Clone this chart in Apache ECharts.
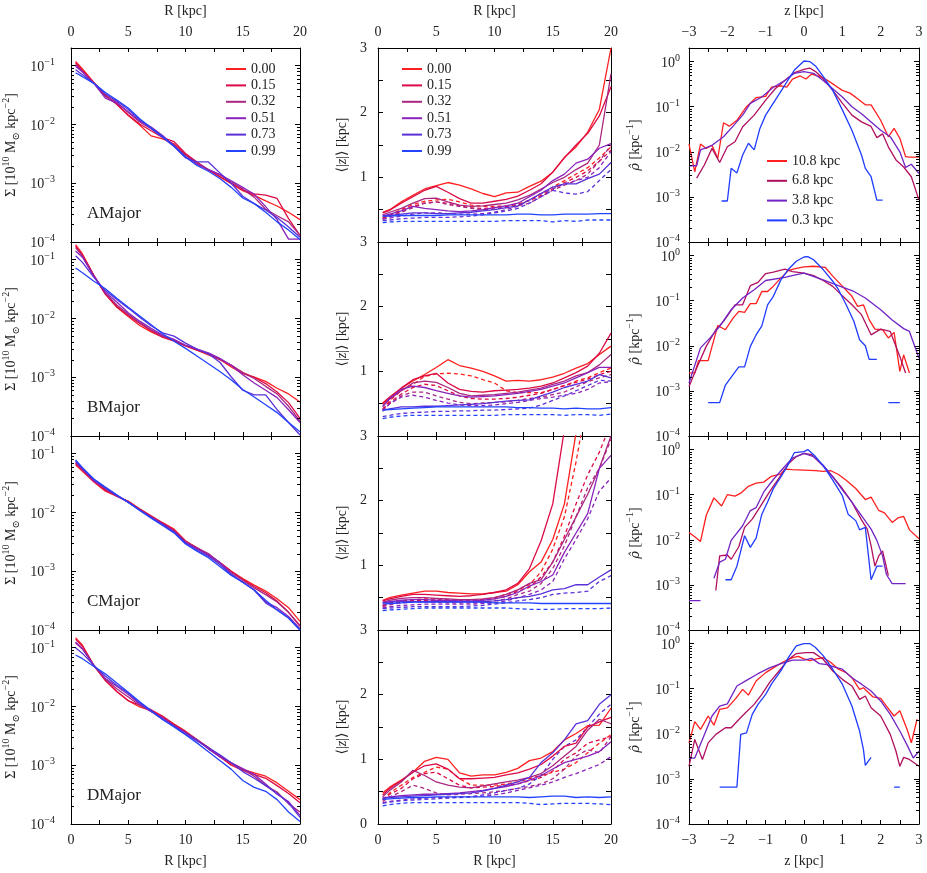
<!DOCTYPE html>
<html><head><meta charset="utf-8">
<script src="https://cdn.jsdelivr.net/npm/echarts@6/dist/echarts.min.js"></script>
<style>html,body{margin:0;padding:0;background:#fff}#c{width:927px;height:873px}</style>
</head><body><div id="c"></div>
<script>
// ---------------- DATA ----------------
const R = [0.4, 1, 2, 3, 4, 5, 6, 7, 8, 9, 10, 11, 12, 13, 14, 15, 16, 17, 18, 19, 20];
const fracLabels = ['0.00', '0.15', '0.32', '0.51', '0.73', '0.99'];
const radLabels = ['10.8 kpc', '6.8 kpc', '3.8 kpc', '0.3 kpc'];
const panelNames = ['AMajor', 'BMajor', 'CMajor', 'DMajor'];
const xTicksR = [0, 5, 10, 15, 20];
const xTicksZ = [-3, -2, -1, 0, 1, 2, 3];

// Surface density Sigma, one row per fraction (0.00 ... 0.99)
const sigmaA = [
  [0.118,0.088,0.052,0.032,0.022,0.0142,0.0098,0.0064,0.0057,0.0047,0.0031,0.0022,0.00168,0.00128,0.00098,0.00075,0.00062,0.0005,0.00041,0.00032,0.00024],
  [0.112,0.082,0.051,0.031,0.022,0.0145,0.0102,0.0078,0.006,0.0051,0.0032,0.0023,0.0017,0.0013,0.001,0.00076,0.00066,0.00063,0.00055,0.00025,0.00013],
  [0.105,0.08,0.05,0.03,0.024,0.016,0.011,0.0085,0.0062,0.0045,0.003,0.0022,0.0017,0.0014,0.00105,0.0008,0.00058,0.00036,0.00028,0.00022,0.00013],
  [0.098,0.078,0.05,0.028,0.023,0.0165,0.0115,0.009,0.0065,0.0043,0.0028,0.0021,0.0017,0.0014,0.0011,0.00085,0.00065,0.0004,0.00024,0.000112,0.000112],
  [0.085,0.07,0.05,0.033,0.025,0.018,0.012,0.0085,0.006,0.0042,0.0027,0.0023,0.0023,0.0015,0.001,0.0006,0.00045,0.00035,0.00026,0.00018,0.00012],
  [0.076,0.065,0.05,0.035,0.026,0.019,0.0125,0.0088,0.0062,0.0043,0.0028,0.002,0.0016,0.0012,0.00085,0.00056,0.00045,0.00032,0.00022,0.00016,0.00011]
];
const sigmaB = [
  [0.18,0.125,0.054,0.026,0.0155,0.0108,0.0076,0.0059,0.0048,0.0041,0.0034,0.0029,0.0024,0.002,0.0015,0.00115,0.001,0.00085,0.00065,0.00052,0.00038],
  [0.17,0.12,0.053,0.026,0.016,0.0112,0.0082,0.0062,0.0048,0.0042,0.0034,0.0029,0.0025,0.002,0.0016,0.0012,0.001,0.00078,0.00056,0.00037,0.0002],
  [0.16,0.115,0.053,0.027,0.017,0.0118,0.0085,0.0064,0.005,0.0043,0.0035,0.003,0.0025,0.002,0.0016,0.0012,0.00095,0.0007,0.00052,0.00032,0.00018],
  [0.14,0.11,0.052,0.028,0.019,0.0125,0.009,0.0068,0.0052,0.0044,0.0035,0.003,0.0026,0.0021,0.0016,0.0011,0.0008,0.0006,0.00045,0.00028,0.00017],
  [0.117,0.09,0.05,0.03,0.021,0.015,0.0105,0.0075,0.0057,0.005,0.0038,0.003,0.0025,0.0018,0.00101,0.0006,0.0005,0.0005,0.00028,0.00017,0.000104],
  [0.072,0.06,0.043,0.032,0.022,0.0155,0.011,0.0078,0.0055,0.0041,0.0031,0.0023,0.0017,0.00125,0.0009,0.00062,0.00046,0.00034,0.00025,0.00017,0.000118]
];
const sigmaC = [
  [0.065,0.05,0.033,0.023,0.019,0.0155,0.0115,0.0088,0.0067,0.0052,0.0033,0.0025,0.0019,0.0014,0.001,0.00075,0.00058,0.00046,0.00034,0.00024,0.00014],
  [0.068,0.052,0.034,0.024,0.019,0.0155,0.0113,0.0086,0.0066,0.005,0.0032,0.0025,0.0019,0.0014,0.001,0.00072,0.00055,0.00043,0.00031,0.0002,0.00012],
  [0.07,0.053,0.034,0.025,0.019,0.015,0.0112,0.0085,0.0065,0.0049,0.0032,0.0025,0.002,0.0014,0.00095,0.0007,0.00052,0.0004,0.0003,0.0002,0.000115],
  [0.074,0.055,0.035,0.026,0.0195,0.015,0.011,0.0083,0.0062,0.0047,0.0031,0.0024,0.0019,0.0014,0.0009,0.00065,0.00048,0.0003,0.00024,0.00017,0.000105],
  [0.076,0.057,0.036,0.026,0.0195,0.015,0.011,0.0082,0.0062,0.0046,0.003,0.0023,0.0018,0.0013,0.00088,0.00065,0.00048,0.00029,0.00022,0.00016,0.0001],
  [0.078,0.058,0.037,0.027,0.02,0.0148,0.0108,0.008,0.006,0.0045,0.0029,0.0022,0.0017,0.0012,0.00085,0.00065,0.00048,0.00032,0.00022,0.00016,0.0001]
];
const sigmaD = [
  [0.148,0.11,0.049,0.0275,0.018,0.0126,0.0098,0.0085,0.0068,0.005,0.0038,0.00275,0.002,0.0014,0.00105,0.00085,0.00074,0.00065,0.0005,0.00036,0.00026],
  [0.14,0.105,0.05,0.028,0.018,0.0125,0.0105,0.0088,0.0068,0.0049,0.0037,0.0027,0.002,0.0014,0.001,0.00082,0.0007,0.0006,0.00045,0.00033,0.00023],
  [0.12,0.095,0.05,0.029,0.02,0.0145,0.0105,0.0082,0.0065,0.0048,0.0036,0.0027,0.0019,0.0014,0.0011,0.00085,0.00065,0.00045,0.00035,0.00022,0.00016],
  [0.125,0.095,0.05,0.03,0.022,0.016,0.011,0.0082,0.0063,0.0047,0.0036,0.0027,0.0019,0.0014,0.0011,0.00088,0.0007,0.00048,0.00032,0.00024,0.00014],
  [0.1,0.08,0.05,0.033,0.023,0.017,0.0115,0.0082,0.006,0.0046,0.0034,0.0026,0.002,0.0015,0.0011,0.00078,0.0006,0.00045,0.00033,0.00023,0.00013],
  [0.075,0.065,0.048,0.036,0.025,0.0175,0.012,0.0085,0.006,0.0045,0.0033,0.0024,0.0017,0.0012,0.00085,0.00055,0.00042,0.00036,0.00026,0.00016,0.00011]
];

// Mean height <|z|>, solid and dashed, one row per fraction
const zmeanA_solid = [
  [0.46,0.5,0.62,0.72,0.82,0.87,0.92,0.88,0.82,0.75,0.7,0.76,0.77,0.86,0.94,1.08,1.31,1.47,1.7,2.05,3.0],
  [0.45,0.49,0.6,0.7,0.8,0.86,0.77,0.67,0.6,0.6,0.63,0.66,0.71,0.8,0.9,1.08,1.3,1.5,1.68,1.95,2.4],
  [0.42,0.46,0.52,0.6,0.67,0.68,0.62,0.57,0.55,0.56,0.58,0.6,0.65,0.72,0.82,0.92,1.0,1.12,1.22,1.5,2.6],
  [0.4,0.43,0.48,0.55,0.52,0.5,0.48,0.47,0.48,0.5,0.53,0.56,0.6,0.7,0.8,0.95,1.05,1.22,1.28,1.45,1.52],
  [0.4,0.41,0.43,0.45,0.45,0.44,0.44,0.45,0.46,0.48,0.5,0.53,0.56,0.65,0.75,0.85,0.9,0.9,0.98,1.05,1.23],
  [0.4,0.4,0.41,0.41,0.41,0.41,0.42,0.42,0.42,0.42,0.42,0.42,0.43,0.43,0.42,0.42,0.43,0.43,0.43,0.44,0.44]
];
const zmeanA_dash = [
  [0.37,0.42,0.5,0.58,0.63,0.65,0.66,0.62,0.57,0.55,0.55,0.56,0.58,0.65,0.75,0.85,0.95,1.05,1.15,1.3,1.47],
  [0.36,0.4,0.48,0.55,0.6,0.62,0.6,0.56,0.53,0.52,0.53,0.55,0.58,0.64,0.72,0.82,0.92,1.0,1.1,1.25,1.42],
  [0.36,0.39,0.46,0.53,0.6,0.62,0.58,0.55,0.52,0.5,0.51,0.53,0.56,0.6,0.7,0.8,0.88,0.95,1.05,1.25,1.5],
  [0.35,0.37,0.4,0.43,0.45,0.45,0.44,0.43,0.43,0.44,0.46,0.5,0.55,0.65,0.75,0.82,0.9,0.95,1.0,1.15,1.4],
  [0.33,0.34,0.36,0.37,0.38,0.38,0.38,0.39,0.4,0.42,0.45,0.48,0.52,0.6,0.7,0.8,0.76,0.74,0.78,0.95,1.12],
  [0.3,0.31,0.32,0.32,0.32,0.32,0.32,0.32,0.32,0.32,0.32,0.33,0.33,0.33,0.33,0.31,0.33,0.32,0.34,0.34,0.34]
];
const zmeanB_solid = [
  [0.51,0.6,0.74,0.85,0.95,1.06,1.18,1.09,1.05,1.0,0.93,0.85,0.86,0.85,0.87,0.91,0.97,1.05,1.12,1.26,1.39],
  [0.5,0.6,0.74,0.87,0.93,0.97,0.82,0.72,0.69,0.68,0.7,0.71,0.72,0.74,0.77,0.82,0.9,0.98,1.08,1.28,1.59],
  [0.47,0.57,0.7,0.82,0.85,0.83,0.75,0.66,0.62,0.63,0.64,0.66,0.68,0.71,0.74,0.8,0.85,0.93,0.98,1.1,1.26],
  [0.45,0.58,0.72,0.77,0.75,0.7,0.66,0.62,0.6,0.61,0.62,0.64,0.66,0.69,0.72,0.77,0.82,0.9,0.98,1.06,1.06],
  [0.4,0.42,0.45,0.45,0.46,0.46,0.47,0.48,0.49,0.5,0.52,0.54,0.55,0.56,0.62,0.68,0.75,0.8,0.85,0.95,0.9],
  [0.4,0.41,0.42,0.43,0.44,0.45,0.45,0.45,0.45,0.45,0.45,0.45,0.44,0.44,0.43,0.43,0.42,0.43,0.42,0.42,0.44]
];
const zmeanB_dash = [
  [0.4,0.55,0.7,0.8,0.92,0.96,0.97,0.96,0.93,0.87,0.82,0.7,0.67,0.67,0.67,0.72,0.78,0.85,0.9,0.98,1.05],
  [0.42,0.52,0.65,0.75,0.8,0.78,0.7,0.62,0.58,0.57,0.57,0.58,0.6,0.63,0.66,0.72,0.78,0.83,0.88,0.95,1.0],
  [0.4,0.5,0.62,0.68,0.68,0.62,0.57,0.52,0.5,0.51,0.52,0.53,0.55,0.58,0.6,0.64,0.68,0.76,0.84,0.9,0.95],
  [0.38,0.5,0.6,0.63,0.6,0.55,0.51,0.48,0.47,0.47,0.48,0.5,0.52,0.55,0.58,0.6,0.63,0.66,0.72,0.82,0.84],
  [0.3,0.32,0.35,0.36,0.37,0.38,0.38,0.39,0.39,0.4,0.4,0.41,0.42,0.43,0.48,0.55,0.62,0.7,0.78,0.86,0.85],
  [0.27,0.29,0.31,0.32,0.32,0.32,0.32,0.32,0.32,0.32,0.32,0.33,0.33,0.33,0.33,0.33,0.32,0.33,0.33,0.32,0.34]
];
const zmeanC_solid = [
  [0.46,0.5,0.54,0.57,0.6,0.6,0.58,0.57,0.56,0.56,0.58,0.6,0.7,0.9,1.05,1.4,1.95,3.05,4.0,4.8,5.5],
  [0.45,0.48,0.52,0.55,0.55,0.54,0.53,0.52,0.53,0.55,0.58,0.62,0.72,0.95,1.38,1.95,3.1,4.0,4.8,5.5,6.0],
  [0.43,0.46,0.49,0.5,0.5,0.49,0.48,0.47,0.47,0.48,0.5,0.55,0.62,0.72,0.78,1.05,1.4,1.75,2.1,2.5,3.0],
  [0.42,0.44,0.46,0.47,0.47,0.46,0.46,0.45,0.45,0.46,0.48,0.52,0.58,0.68,0.75,0.85,1.2,1.5,1.8,2.5,2.7],
  [0.42,0.43,0.44,0.44,0.44,0.44,0.44,0.44,0.44,0.44,0.45,0.47,0.5,0.52,0.56,0.62,0.64,0.7,0.7,0.82,0.93],
  [0.4,0.41,0.42,0.43,0.43,0.43,0.43,0.43,0.43,0.43,0.42,0.42,0.42,0.42,0.41,0.41,0.41,0.41,0.41,0.41,0.41]
];
const zmeanC_dash = [
  [0.38,0.42,0.45,0.47,0.48,0.48,0.47,0.46,0.46,0.47,0.5,0.55,0.62,0.7,0.9,1.25,1.75,2.6,3.6,4.5,5.0],
  [0.37,0.41,0.44,0.46,0.46,0.46,0.45,0.45,0.45,0.46,0.48,0.52,0.6,0.66,0.82,1.05,1.45,1.95,2.4,2.75,3.2],
  [0.36,0.39,0.42,0.43,0.43,0.43,0.42,0.42,0.42,0.43,0.45,0.48,0.55,0.6,0.72,0.95,1.3,1.75,2.2,2.5,2.95],
  [0.34,0.36,0.38,0.39,0.4,0.4,0.4,0.4,0.4,0.41,0.42,0.45,0.5,0.55,0.62,0.75,1.1,1.4,1.72,2.15,2.35],
  [0.33,0.34,0.35,0.36,0.36,0.36,0.36,0.36,0.37,0.38,0.4,0.42,0.45,0.47,0.5,0.55,0.57,0.58,0.6,0.75,0.84],
  [0.3,0.31,0.32,0.33,0.34,0.34,0.34,0.34,0.34,0.34,0.34,0.34,0.33,0.32,0.32,0.32,0.33,0.33,0.33,0.33,0.34]
];
const zmeanD_solid = [
  [0.48,0.57,0.68,0.8,0.97,1.03,1.0,0.79,0.74,0.76,0.76,0.8,0.86,0.98,1.02,1.12,1.3,1.4,1.52,1.53,1.79],
  [0.45,0.55,0.67,0.8,0.9,0.93,0.85,0.7,0.7,0.71,0.72,0.76,0.79,0.85,0.92,1.05,1.2,1.25,1.5,1.58,1.65],
  [0.42,0.52,0.65,0.83,0.75,0.65,0.6,0.57,0.56,0.59,0.62,0.65,0.68,0.72,0.78,0.9,1.05,1.2,1.45,1.62,1.55],
  [0.4,0.42,0.44,0.45,0.46,0.46,0.47,0.48,0.5,0.52,0.55,0.58,0.62,0.68,0.75,0.85,0.95,1.0,1.05,1.12,1.27],
  [0.4,0.41,0.42,0.43,0.44,0.45,0.46,0.47,0.48,0.51,0.55,0.6,0.65,0.72,0.95,1.1,1.3,1.55,1.6,1.85,2.0],
  [0.38,0.39,0.4,0.41,0.41,0.42,0.42,0.42,0.42,0.42,0.42,0.42,0.42,0.41,0.42,0.43,0.43,0.41,0.42,0.41,0.42]
];
const zmeanD_dash = [
  [0.38,0.48,0.6,0.72,0.8,0.88,0.85,0.7,0.6,0.6,0.6,0.62,0.65,0.7,0.75,0.8,0.85,0.95,1.1,1.25,1.38],
  [0.37,0.46,0.55,0.7,0.78,0.8,0.7,0.6,0.56,0.57,0.58,0.6,0.62,0.67,0.72,0.82,1.0,1.1,1.25,1.3,1.35],
  [0.35,0.42,0.5,0.6,0.55,0.48,0.45,0.46,0.47,0.48,0.5,0.52,0.55,0.58,0.62,0.7,0.85,1.05,1.15,1.1,1.35],
  [0.33,0.35,0.37,0.39,0.4,0.41,0.41,0.42,0.42,0.43,0.45,0.48,0.52,0.56,0.6,0.65,0.72,0.78,0.85,0.92,1.04],
  [0.32,0.34,0.36,0.37,0.38,0.39,0.4,0.41,0.42,0.45,0.48,0.52,0.55,0.62,0.75,1.0,1.2,1.3,1.5,1.7,1.85],
  [0.28,0.3,0.32,0.33,0.33,0.33,0.33,0.33,0.33,0.33,0.33,0.33,0.33,0.32,0.3,0.31,0.32,0.32,0.32,0.31,0.3]
];

// Vertical density profiles [z, rho], one list per radius (10.8, 6.8, 3.8, 0.3 kpc)
const rhoA = [
  [[-3,0.0148],[-2.85,0.0036],[-2.7,0.0148],[-2.55,0.0118],[-2.4,0.014],[-2.25,0.0071],[-2.1,0.044],[-1.95,0.037],[-1.75,0.05],[-1.5,0.1],[-1.25,0.158],[-1.0,0.17],[-0.85,0.27],[-0.6,0.29],[-0.45,0.27],[-0.3,0.41],[-0.1,0.48],[0.05,0.41],[0.2,0.53],[0.4,0.47],[0.6,0.39],[0.8,0.3],[1.0,0.23],[1.2,0.2],[1.4,0.15],[1.6,0.11],[1.75,0.11],[2.0,0.05],[2.2,0.0215],[2.35,0.033],[2.5,0.02],[2.65,0.0078],[2.75,0.0076],[3,0.0076]],
  [[-2.8,0.0026],[-2.6,0.0051],[-2.4,0.0119],[-2.2,0.0058],[-2.0,0.0129],[-1.8,0.0167],[-1.6,0.036],[-1.3,0.065],[-1.0,0.14],[-0.75,0.25],[-0.5,0.38],[-0.25,0.57],[0,0.67],[0.15,0.72],[0.3,0.6],[0.5,0.42],[0.75,0.23],[1.0,0.12],[1.25,0.065],[1.5,0.046],[1.75,0.0365],[1.9,0.0206],[2.05,0.025],[2.2,0.0129],[2.4,0.0066],[2.6,0.0046],[2.8,0.0028],[3,0.00085]],
  [[-3,0.0049],[-2.8,0.0049],[-2.7,0.011],[-2.4,0.0139],[-2.1,0.0216],[-1.85,0.037],[-1.6,0.065],[-1.4,0.118],[-1.1,0.164],[-0.8,0.27],[-0.5,0.38],[-0.25,0.55],[0,0.6],[0.25,0.55],[0.5,0.38],[0.75,0.25],[1.0,0.164],[1.25,0.1],[1.5,0.07],[1.75,0.046],[2.0,0.03],[2.25,0.0216],[2.5,0.01],[2.65,0.0045],[2.8,0.0053],[3,0.0033]],
  [[-2.15,0.00081],[-2.0,0.00081],[-1.9,0.0043],[-1.75,0.0034],[-1.6,0.0085],[-1.45,0.0155],[-1.3,0.011],[-1.15,0.033],[-1.0,0.065],[-0.75,0.14],[-0.5,0.3],[-0.25,0.65],[0,1.03],[0.15,1.0],[0.3,0.8],[0.5,0.47],[0.75,0.23],[1.0,0.085],[1.25,0.03],[1.5,0.0085],[1.6,0.0043],[1.75,0.0028],[1.9,0.00085],[2.05,0.00085]]
];
const rhoB = [
  [[-3,0.0025],[-2.85,0.0025],[-2.75,0.0047],[-2.5,0.0047],[-2.25,0.028],[-2.05,0.0227],[-1.85,0.041],[-1.7,0.058],[-1.55,0.055],[-1.4,0.086],[-1.25,0.086],[-1.1,0.16],[-0.95,0.16],[-0.8,0.21],[-0.6,0.32],[-0.4,0.47],[-0.2,0.52],[0,0.56],[0.25,0.58],[0.55,0.55],[0.75,0.35],[1.0,0.21],[1.25,0.125],[1.4,0.075],[1.55,0.081],[1.7,0.038],[1.85,0.0234],[2.05,0.0227],[2.2,0.0149],[2.35,0.0198],[2.5,0.0027],[2.6,0.0063],[2.75,0.0025]],
  [[-3,0.00125],[-2.8,0.0032],[-2.55,0.0097],[-2.3,0.0227],[-2.1,0.0348],[-1.8,0.081],[-1.6,0.081],[-1.4,0.215],[-1.2,0.255],[-1.0,0.4],[-0.8,0.43],[-0.5,0.5],[-0.3,0.44],[0,0.41],[0.25,0.36],[0.5,0.28],[0.75,0.208],[1.0,0.128],[1.25,0.081],[1.5,0.049],[1.75,0.0175],[2.0,0.0234],[2.25,0.0208],[2.5,0.0058],[2.65,0.0025]],
  [[-3,0.0015],[-2.7,0.009],[-2.45,0.015],[-2.2,0.027],[-1.9,0.063],[-1.6,0.115],[-1.3,0.175],[-1.0,0.28],[-0.5,0.33],[-0.25,0.37],[0,0.41],[0.5,0.29],[1.0,0.2],[1.3,0.16],[1.6,0.115],[2.0,0.063],[2.3,0.0375],[2.6,0.024],[2.75,0.0208],[3,0.0053]],
  [[-2.5,0.00055],[-2.2,0.00055],[-2.05,0.00135],[-1.85,0.0023],[-1.7,0.0034],[-1.55,0.0034],[-1.4,0.0097],[-1.25,0.0174],[-1.1,0.0277],[-0.95,0.081],[-0.8,0.125],[-0.6,0.293],[-0.4,0.506],[-0.2,0.75],[0,0.93],[0.1,0.95],[0.25,0.81],[0.5,0.49],[0.75,0.27],[0.9,0.175],[1.1,0.081],[1.3,0.035],[1.45,0.0136],[1.6,0.01],[1.7,0.005],[1.9,0.005],[2.05,'-'],[2.2,0.00055],[2.5,0.00055]]
];
const rhoC = [
  [[-3,0.0145],[-2.85,0.0117],[-2.7,0.0092],[-2.55,0.035],[-2.35,0.085],[-2.15,0.056],[-2.0,0.1],[-1.8,0.093],[-1.65,0.108],[-1.45,0.153],[-1.25,0.18],[-1.05,0.19],[-0.85,0.255],[-0.6,0.29],[-0.5,0.37],[-0.3,0.36],[0,0.35],[0.3,0.34],[0.5,0.33],[0.7,0.34],[0.9,0.28],[1.1,0.21],[1.35,0.137],[1.6,0.078],[1.75,0.0886],[1.95,0.0447],[2.1,0.0395],[2.3,0.0243],[2.45,0.0305],[2.6,0.033],[2.75,0.0166],[3,0.0106]],
  [[-2.3,0.00075],[-2.2,0.0044],[-2.0,0.0046],[-1.9,0.0037],[-1.7,0.007],[-1.55,0.0188],[-1.35,0.0288],[-1.15,0.0528],[-0.9,0.115],[-0.6,0.27],[-0.4,0.49],[-0.2,0.7],[0,0.82],[0.2,0.77],[0.5,0.43],[0.75,0.25],[1.0,0.137],[1.25,0.068],[1.5,0.0276],[1.65,0.0172],[1.75,0.0073],[1.85,0.0026],[1.95,0.0044],[2.05,0.0057],[2.2,0.0016]],
  [[-3,0.00045],[-2.7,0.00045],[-2.55,'-'],[-2.35,0.0014],[-2.2,0.0032],[-2.05,0.0037],[-1.9,0.0097],[-1.6,0.0205],[-1.4,0.0445],[-1.25,0.0515],[-1.05,0.115],[-0.8,0.217],[-0.55,0.38],[-0.3,0.65],[0,0.82],[0.25,0.7],[0.5,0.45],[0.75,0.25],[1.0,0.128],[1.25,0.0686],[1.5,0.0345],[1.75,0.0172],[1.9,0.0097],[2.05,0.0044],[2.15,0.0017],[2.3,0.00107],[2.5,0.00107],[2.65,0.00107]],
  [[-2.05,0.0013],[-1.9,0.0013],[-1.75,0.0026],[-1.55,0.0123],[-1.4,0.0068],[-1.25,0.0109],[-1.1,0.037],[-0.95,0.069],[-0.8,0.136],[-0.6,0.25],[-0.45,0.41],[-0.25,0.86],[0,0.9],[0.1,1.0],[0.3,0.7],[0.5,0.44],[0.75,0.21],[1.0,0.095],[1.15,0.037],[1.35,0.0266],[1.45,0.0166],[1.6,0.0188],[1.75,0.0013],[1.9,0.0026],[2.05,0.0026]]
];
const rhoD = [
  [[-3,0.0063],[-2.85,0.0186],[-2.7,0.0125],[-2.5,0.0248],[-2.35,0.0155],[-2.2,0.0347],[-2.0,0.0376],[-1.8,0.058],[-1.6,0.0966],[-1.45,0.072],[-1.25,0.148],[-1.0,0.227],[-0.8,0.29],[-0.55,0.39],[-0.3,0.49],[-0.15,0.52],[0,0.46],[0.15,0.42],[0.3,0.45],[0.5,0.49],[0.7,0.38],[0.9,0.27],[1.1,0.227],[1.25,0.175],[1.45,0.0966],[1.55,0.105],[1.8,0.0655],[2.0,0.061],[2.15,0.041],[2.35,0.0248],[2.5,0.0325],[2.7,0.0118],[2.8,0.0063],[2.95,0.021]],
  [[-3,0.0019],[-2.85,0.0075],[-2.65,0.0027],[-2.5,0.0063],[-2.3,0.0097],[-2.05,0.0136],[-1.9,0.0136],[-1.7,0.0208],[-1.5,0.0308],[-1.3,0.0449],[-1.1,0.075],[-0.9,0.136],[-0.65,0.247],[-0.4,0.449],[-0.2,0.6],[0.05,0.63],[0.25,0.63],[0.5,0.449],[0.75,0.247],[1.0,0.161],[1.25,0.115],[1.45,0.058],[1.6,0.069],[1.75,0.0378],[2.0,0.0248],[2.25,0.0097],[2.4,0.0041],[2.5,0.0019],[2.6,0.003],[2.75,0.0027],[3,0.0019]],
  [[-3,0.0029],[-2.85,0.0029],[-2.65,0.0075],[-2.4,0.0248],[-2.2,0.041],[-2.0,0.046],[-1.75,0.115],[-1.5,0.153],[-1.2,0.215],[-0.9,0.29],[-0.6,0.36],[-0.3,0.43],[0,0.43],[0.2,0.47],[0.4,0.36],[0.6,0.34],[0.8,0.3],[1.0,0.27],[1.25,0.175],[1.5,0.126],[1.75,0.0886],[2.0,0.0535],[2.25,0.027],[2.5,0.0115],[2.7,0.0054],[2.85,0.0029],[3,0.0041]],
  [[-2.2,0.00066],[-1.75,0.00066],[-1.65,0.0097],[-1.5,0.0105],[-1.35,0.027],[-1.2,0.045],[-1.0,0.075],[-0.85,0.126],[-0.6,0.25],[-0.4,0.5],[-0.2,0.89],[0,1.0],[0.15,1.0],[0.3,0.82],[0.5,0.54],[0.75,0.27],[1.0,0.126],[1.25,0.0412],[1.45,0.0115],[1.55,0.0045],[1.6,0.002],[1.75,0.003],[2.0,'-'],[2.35,0.00066],[2.5,0.00066]]
];

// ---------------- STYLE ----------------
const fracColors = ['#ff1f1f', '#dc0a45', '#aa2680', '#8a22bb', '#5a30d8', '#2244ff'];
const radColors = ['#ff1f1f', '#b0105e', '#7224c4', '#1f3cff'];
const FONT = '"Liberation Serif", "DejaVu Serif", "DejaVu Sans", serif';
const GREEK = '"DejaVu Serif", serif';
const TXT = '#222';
const COLS = [{left: 67, width: 233}, {left: 378, width: 233}, {left: 689, width: 230}];
const ROW_TOP = 48, ROW_H = 194;

const richBase = {
  n: {fontFamily: FONT, fontSize: 14, color: TXT, verticalAlign: 'bottom', padding: [0, 0, 3, 0]},
  i: {fontFamily: FONT, fontSize: 14, color: TXT, fontStyle: 'italic', verticalAlign: 'bottom', padding: [0, 0, 3, 0]},
  g: {fontFamily: GREEK, fontSize: 13, color: TXT, fontStyle: 'italic', verticalAlign: 'bottom', padding: [0, 0, 3, 0]},
  s: {fontFamily: FONT, fontSize: 10, color: TXT, verticalAlign: 'bottom', padding: [0, 0, 10, 0]},
  u: {fontFamily: FONT, fontSize: 10, color: TXT, verticalAlign: 'bottom', padding: [0, 0, 0, 0]}
};
const richTick = {
  b: {fontFamily: FONT, fontSize: 14, color: TXT, verticalAlign: 'bottom'},
  s: {fontFamily: FONT, fontSize: 10, color: TXT, verticalAlign: 'bottom', padding: [0, 0, 7, 0]}
};
function logFmt(v) {
  const l = Math.log10(v), e = Math.round(l);
  if (Math.abs(l - e) > 1e-6) return '';
  return '{b|10}{s|' + (e < 0 ? '\u2212' + (-e) : String(e)) + '}';
}
function minus(v) { return v < 0 ? '\u2212' + (-v) : String(v); }

const yNames = [
  '{n|\u03a3 [10}{s|10}{n| M}{u|\u2299}{n| kpc}{s|\u22122}{n|]}',
  '{n|\u27e8|}{i|z}{n||\u27e9 [kpc]}',
  '{g|\u03c1\u0302}{n| [kpc}{s|\u22121}{n|]}'
];
const yNameGap = [50, 26, 44];
const yLabelMargin = [16, 11, 9];

function xAxisCfg(c, pos, showLab, g) {
  const isZ = c === 2;
  return {
    type: 'value', gridIndex: g, position: pos,
    min: isZ ? -3 : 0, max: isZ ? 3 : 20, interval: isZ ? 0.5 : 2.5,
    axisLine: {show: true, onZero: false, lineStyle: {color: '#000', width: 1}},
    axisTick: {show: true, inside: true, length: 4, lineStyle: {color: '#000', width: 1}},
    splitLine: {show: false},
    axisLabel: {
      show: showLab, margin: 9, fontFamily: FONT, fontSize: 14, color: TXT,
      formatter: isZ ? (v => xTicksZ.includes(v) ? minus(v) : '')
                     : (v => xTicksR.includes(v) ? String(v) : '')
    },
    name: showLab ? (isZ ? 'z [kpc]' : 'R [kpc]') : '',
    nameLocation: 'middle', nameGap: 30, nameMoveOverlap: false,
    nameTextStyle: {fontFamily: FONT, fontSize: 14, color: TXT}
  };
}
function yAxisCfg(c, r, pos, showLab, g) {
  const base = {
    gridIndex: g, position: pos,
    axisLine: {show: true, onZero: false, lineStyle: {color: '#000', width: 1}},
    axisTick: {show: true, inside: true, length: 5, lineStyle: {color: '#000', width: 1}},
    splitLine: {show: false}, minorTick: {show: false}
  };
  if (c === 1) {
    Object.assign(base, {type: 'value', min: 0, max: 3, interval: 0.5,
      axisLabel: {show: showLab, margin: yLabelMargin[c], fontFamily: FONT, fontSize: 14, color: TXT,
        formatter: v => (Number.isInteger(v) && (v > 0 || r === 3)) ? String(v) : ''}});
  } else {
    Object.assign(base, {type: 'log', logBase: 10, min: 1e-4, max: c === 0 ? 0.2 : 2,
      axisLabel: {show: showLab, margin: yLabelMargin[c], formatter: logFmt, rich: richTick}});
  }
  if (showLab) {
    Object.assign(base, {name: yNames[c], nameLocation: 'middle', nameGap: yNameGap[c], nameRotate: 90,
      nameMoveOverlap: false, nameTextStyle: {rich: richBase}});
  }
  return base;
}

// minor log ticks drawn through the axis scale
function minorTickSeries(c, xi, yi) {
  const top = c === 0 ? 0.2 : 2, xmin = c === 0 ? 0 : -3, xmax = c === 0 ? 20 : 3;
  const vals = [];
  for (let e = -4; e <= 0; e++) for (let k = 2; k <= 9; k++) { const v = k * Math.pow(10, e); if (v < top) vals.push([xmin, v]); }
  return {
    type: 'custom', name: 'minor', xAxisIndex: xi, yAxisIndex: yi, silent: true, clip: false, z: 5,
    data: vals, encode: {x: 0, y: 1},
    renderItem: (p, api) => {
      const v = api.value(1);
      const a = api.coord([xmin, v]), b = api.coord([xmax, v]);
      const ya = Math.round(a[1]) + 0.5;
      return {type: 'group', children: [
        {type: 'line', shape: {x1: a[0], y1: ya, x2: a[0] + 3, y2: ya}, style: {stroke: '#000', lineWidth: 1}},
        {type: 'line', shape: {x1: b[0] - 3, y1: ya, x2: b[0], y2: ya}, style: {stroke: '#000', lineWidth: 1}}
      ]};
    }
  };
}

const sigmaAll = [sigmaA, sigmaB, sigmaC, sigmaD];
const zSolidAll = [zmeanA_solid, zmeanB_solid, zmeanC_solid, zmeanD_solid];
const zDashAll = [zmeanA_dash, zmeanB_dash, zmeanC_dash, zmeanD_dash];
const rhoAll = [rhoA, rhoB, rhoC, rhoD];

const grids = [], xAxes = [], yAxes = [], series = [], graphics = [];
for (let r = 0; r < 4; r++) {
  for (let c = 0; c < 3; c++) {
    const g = grids.length;
    grids.push({left: COLS[c].left, top: ROW_TOP + ROW_H * r, width: COLS[c].width, height: ROW_H, containLabel: false});
    const xi = xAxes.length;
    xAxes.push(xAxisCfg(c, 'bottom', r === 3, g));
    xAxes.push(xAxisCfg(c, 'top', r === 0, g));
    const yi = yAxes.length;
    yAxes.push(yAxisCfg(c, r, 'left', true, g));
    yAxes.push(yAxisCfg(c, r, 'right', false, g));
    const lineBase = {type: 'line', xAxisIndex: xi, yAxisIndex: yi, symbol: 'none', showSymbol: false, clip: true, silent: true, animation: false};
    if (c === 0) {
      sigmaAll[r].forEach((vals, k) => series.push(Object.assign({}, lineBase, {
        name: fracLabels[k], data: R.map((x, j) => [x, vals[j]]),
        lineStyle: {color: fracColors[k], width: 1.3}, itemStyle: {color: fracColors[k]}})));
      series.push(minorTickSeries(0, xi, yi));
    } else if (c === 1) {
      zDashAll[r].forEach((vals, k) => series.push(Object.assign({}, lineBase, {
        name: fracLabels[k] + ' dashed', data: R.map((x, j) => [x, vals[j]]),
        lineStyle: {color: fracColors[k], width: 1.3, type: [4, 3]}, itemStyle: {color: fracColors[k]}})));
      zSolidAll[r].forEach((vals, k) => series.push(Object.assign({}, lineBase, {
        name: fracLabels[k], data: R.map((x, j) => [x, vals[j]]),
        lineStyle: {color: fracColors[k], width: 1.3}, itemStyle: {color: fracColors[k]}})));
    } else {
      rhoAll[r].forEach((pts, k) => series.push(Object.assign({}, lineBase, {
        name: radLabels[k], data: pts, connectNulls: false,
        lineStyle: {color: radColors[k], width: 1.3}, itemStyle: {color: radColors[k]}})));
      series.push(minorTickSeries(2, xi, yi));
    }
  }
  graphics.push({type: 'text', left: 87, top: ROW_TOP + ROW_H * r + 157,
    style: {text: panelNames[r], font: '17px ' + FONT, fill: TXT}});
}

const legendBase = {orient: 'vertical', padding: 0, itemWidth: 20, itemHeight: 2, icon: 'rect',
  textStyle: {fontFamily: FONT, fontSize: 14, color: TXT, lineHeight: 12}, selectedMode: false};
const legends = [
  Object.assign({}, legendBase, {left: 226, top: 62, itemGap: 2.4, data: fracLabels}),
  Object.assign({}, legendBase, {left: 402, top: 62, itemGap: 2.4, data: fracLabels}),
  Object.assign({}, legendBase, {left: 767, top: 154, itemGap: 5.8, data: radLabels})
];

const chart = echarts.init(document.getElementById('c'), null, {renderer: 'canvas'});
chart.setOption({
  animation: false, backgroundColor: '#fff',
  grid: grids, xAxis: xAxes, yAxis: yAxes, series: series, legend: legends, graphic: graphics,
  tooltip: {show: false}
});
</script>
</body></html>
